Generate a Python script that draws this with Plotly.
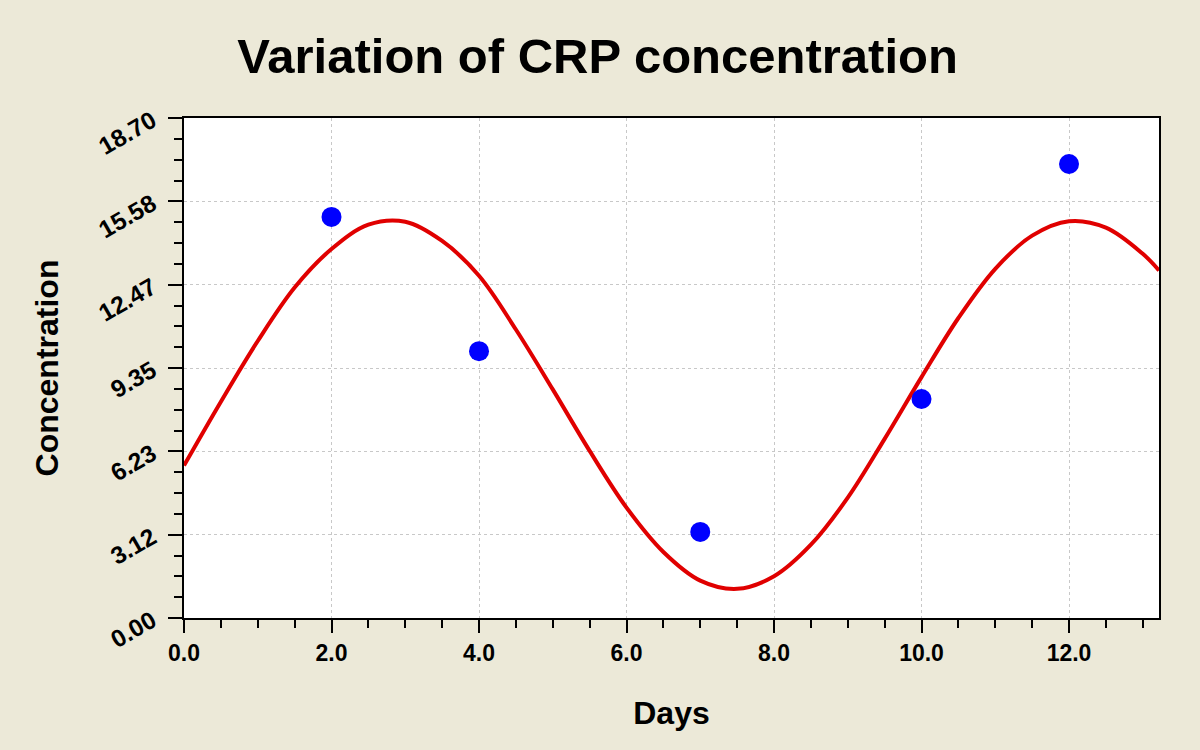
import plotly.graph_objects as go

# Measured data points
days = [2, 4, 7, 10, 12]
conc = [15.0, 9.98, 3.22, 8.19, 16.98]

# Fitted curve
curve_x = [0.0, 0.5, 1.0, 1.5, 2.0, 2.5, 3.0, 3.5, 4.0, 4.5, 5.0, 5.5, 6.0, 6.5,
           7.0, 7.5, 8.0, 8.5, 9.0, 9.5, 10.0, 10.5, 11.0, 11.5, 12.0, 12.5, 13.0, 13.22]
curve_y = [5.7, 8.09, 10.36, 12.36, 13.8, 14.71, 14.82, 14.1, 12.8, 10.79, 8.55, 6.25,
           4.13, 2.47, 1.4, 1.09, 1.56, 2.74, 4.5, 6.7, 9.01, 11.22, 13.06, 14.3, 14.84,
           14.6, 13.62, 13.0]

ytick_vals = [0.0, 3.117, 6.233, 9.35, 12.467, 15.583, 18.70]
ytick_text = ["0.00", "3.12", "6.23", "9.35", "12.47", "15.58", "18.70"]
xtick_vals = [0, 2, 4, 6, 8, 10, 12]
xtick_text = ["0.0", "2.0", "4.0", "6.0", "8.0", "10.0", "12.0"]

FONT = "Liberation Sans, Arial, sans-serif"

fig = go.Figure()
fig.add_trace(go.Scatter(x=curve_x, y=curve_y, mode="lines",
                         line=dict(color="#E00000", width=4, shape="spline"),
                         showlegend=False, hoverinfo="skip"))
fig.add_trace(go.Scatter(x=days, y=conc, mode="markers",
                         marker=dict(color="#0000FF", size=20, line=dict(width=0)),
                         showlegend=False))

fig.update_layout(
    width=1200, height=750,
    paper_bgcolor="#ECE9D8", plot_bgcolor="#FFFFFF",
    margin=dict(l=184, r=41, t=118, b=132),
    title=dict(text="<b>Variation of CRP concentration</b>", x=0.498, xanchor="center",
               y=0.925, yanchor="middle",
               font=dict(family=FONT, size=49, color="#000000")),
    font=dict(family=FONT, color="#000000"),
)
fig.update_xaxes(
    range=[0, 13.22], tickvals=xtick_vals, ticktext=xtick_text,
    ticks="outside", ticklen=13, tickwidth=2, tickcolor="#000",
    showline=True, linewidth=2, linecolor="#000", mirror=True,
    showgrid=True, gridcolor="#C8C8C8", griddash="dot", gridwidth=1,
    zeroline=False,
    tickfont=dict(size=23, weight="bold"),
    minor=dict(dtick=0.5, tick0=0, ticks="outside", ticklen=8, tickwidth=2,
               tickcolor="#000", showgrid=False),
    title=dict(text="<b>Days</b>", font=dict(size=32), standoff=37),
)
fig.update_yaxes(
    range=[0, 18.70], tickvals=ytick_vals, ticktext=ytick_text,
    ticks="outside", ticklen=14, tickwidth=2, tickcolor="#000",
    showline=True, linewidth=2, linecolor="#000", mirror=True,
    showgrid=True, gridcolor="#C8C8C8", griddash="dot", gridwidth=1,
    zeroline=False, tickangle=-30, ticklabelstandoff=11,
    tickfont=dict(size=24.5, weight="bold"),
    minor=dict(dtick=18.70 / 24, tick0=0, ticks="outside", ticklen=8, tickwidth=2,
               tickcolor="#000", showgrid=False),
    title=dict(text="<b>Concentration</b>", font=dict(size=32), standoff=26),
)

fig.write_html("out.html", config={"displayModeBar": False},
               post_script="document.body.style.margin='0';document.body.style.background='#ECE9D8';")
